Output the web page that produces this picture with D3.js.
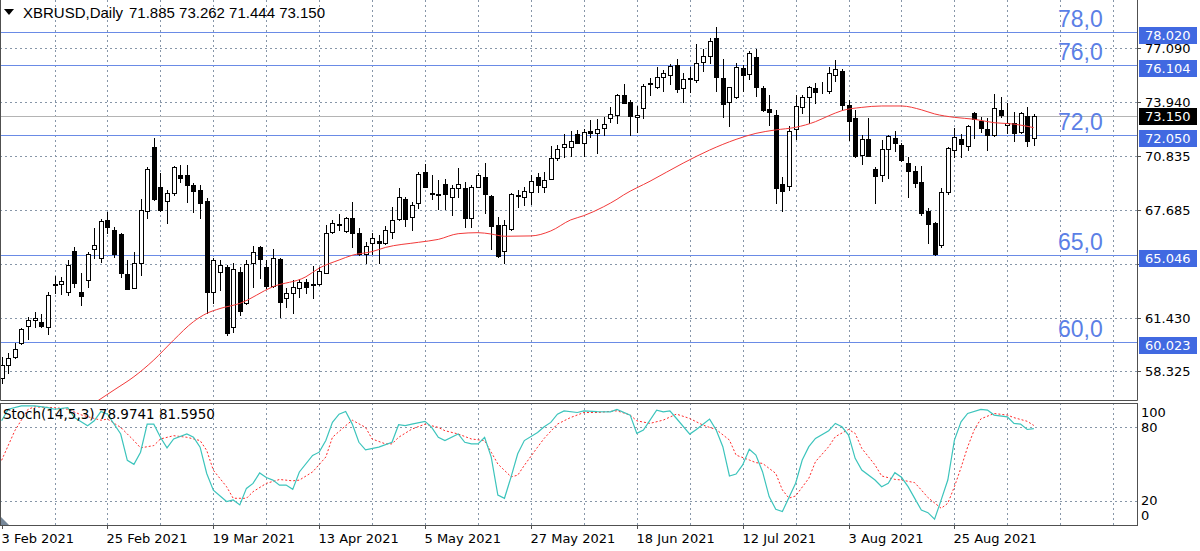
<!DOCTYPE html>
<html>
<head>
<meta charset="utf-8">
<script src="https://cdn.jsdelivr.net/npm/d3@7"></script>
<style>
body { margin: 0; background: #fff; }
svg { display: block; font-family: "DejaVu Sans", sans-serif; }
</style>
</head>
<body>
<svg></svg>
<script>
// XBRUSD daily, bar 0 = 3 Feb 2021
const opens = [57.90,58.67,59.16,59.93,60.94,61.29,61.15,60.90,63.36,63.38,62.93,65.31,62.93,63.61,65.39,64.91,67.10,66.52,66.26,63.94,
63.16,64.62,67.62,71.36,68.99,68.22,68.65,69.69,69.71,69.13,68.84,68.20,62.93,64.08,64.39,60.86,64.08,62.26,64.58,65.55,
64.39,63.28,64.81,62.55,62.87,63.13,63.51,63.38,63.38,64.04,66.42,66.85,66.48,67.23,66.32,65.12,65.78,65.90,65.74,66.42,
67.14,68.30,67.29,68.07,69.87,68.68,68.59,69.17,68.45,68.97,68.97,67.19,69.03,69.61,68.49,66.81,65.29,66.55,68.53,68.45,
68.74,69.57,69.03,69.48,70.68,71.32,71.32,72.09,71.55,72.27,72.13,72.42,73.04,73.20,74.34,73.97,73.06,73.62,75.02,74.84,
75.39,75.52,76.10,74.75,75.33,75.23,76.30,76.63,77.65,75.33,73.97,74.26,75.91,75.58,76.55,74.75,73.53,73.20,69.19,69.07,
72.36,73.64,74.26,74.78,74.67,74.61,75.52,75.77,73.78,73.00,70.87,71.78,70.04,69.71,71.20,71.84,71.45,70.43,69.96,69.28,
67.62,66.94,65.64,68.74,71.16,71.78,71.40,73.33,72.85,72.36,72.04,73.49,72.62,72.75,72.23,73.14,71.885];
const highs = [59.15,59.35,59.93,60.80,61.48,61.77,61.61,62.93,63.84,63.80,64.77,65.55,64.00,65.26,66.61,67.14,67.58,66.71,66.32,64.77,
65.26,68.32,70.20,71.88,69.81,68.84,70.23,70.29,70.29,69.23,69.13,68.36,64.87,64.77,64.48,64.62,64.35,64.77,65.59,65.59,
64.77,65.39,64.87,63.13,63.61,63.65,63.65,64.42,64.39,66.80,67.10,67.45,67.29,68.16,66.61,65.84,66.32,66.22,66.75,67.83,
68.94,68.41,68.16,69.87,70.33,69.71,69.42,69.46,69.13,70.10,69.32,69.13,69.81,70.39,68.55,67.29,67.10,68.68,68.84,69.03,
69.71,69.81,69.90,71.40,71.45,72.07,72.29,72.33,72.36,72.91,72.95,73.10,73.68,74.42,75.00,74.07,73.72,75.00,75.33,76.00,
75.81,76.16,76.43,75.62,76.00,77.32,77.01,77.65,78.29,76.43,74.84,76.24,76.10,76.94,77.01,74.88,74.36,73.49,69.61,72.56,
74.36,74.36,74.88,75.04,75.13,75.97,76.39,75.85,74.07,73.49,72.04,73.00,70.16,71.74,72.04,72.29,71.55,70.78,70.23,70.23,
67.77,67.00,68.94,71.36,72.42,72.09,72.62,73.39,73.06,73.00,74.42,74.22,73.88,73.39,73.39,73.68,73.262];
const lows = [57.60,58.19,59.06,59.89,60.16,60.90,60.90,60.47,62.84,62.78,62.74,63.22,62.16,63.22,64.87,64.68,66.32,64.97,63.80,63.07,
63.13,63.90,67.19,68.26,67.64,66.94,68.55,69.32,68.16,67.58,67.19,61.71,62.25,63.03,60.40,60.61,61.58,62.22,63.22,63.71,
63.13,63.22,61.44,62.06,61.71,62.64,62.84,62.55,63.32,64.00,66.32,66.52,66.42,65.55,65.06,64.58,65.12,64.58,65.70,66.03,
67.10,66.75,66.52,67.77,68.99,68.30,67.72,67.72,67.39,68.45,66.71,66.71,68.99,67.48,65.39,64.93,64.62,66.52,67.83,67.97,
68.03,68.74,68.74,69.46,70.58,70.74,70.81,71.55,70.81,71.90,71.01,72.03,72.81,72.75,73.87,72.04,72.23,73.00,74.36,74.75,
74.61,75.00,74.55,73.97,74.55,75.13,75.77,76.20,74.61,73.06,72.56,74.17,74.61,75.27,74.30,73.45,72.62,68.07,67.64,68.84,
71.78,73.29,72.71,73.91,74.49,74.46,75.19,73.53,71.74,70.74,70.35,70.81,68.10,69.38,69.52,71.13,70.54,68.45,69.03,67.39,
65.74,65.06,65.55,68.61,70.74,70.74,71.16,71.84,72.23,71.16,71.98,73.06,72.13,71.71,72.17,71.40,71.444];
const closes = [58.67,59.06,59.60,60.74,61.29,61.38,60.96,62.74,63.30,63.55,64.48,63.42,62.68,65.12,65.62,67.04,66.67,65.12,64.04,63.09,
64.62,67.68,70.08,68.32,67.68,68.68,70.16,69.56,69.13,68.80,68.10,62.93,64.77,64.46,60.51,64.23,61.83,64.52,65.22,64.81,
63.26,64.87,62.35,62.84,63.22,63.51,63.22,63.34,64.13,66.32,66.90,66.83,67.19,66.36,65.12,65.60,66.03,65.74,66.52,67.10,
68.41,67.14,67.97,69.77,69.03,68.59,68.53,68.61,68.94,69.19,67.19,69.03,69.71,68.61,66.75,65.00,66.81,68.59,68.49,68.80,
69.36,69.13,69.42,70.68,71.22,71.49,71.71,71.59,72.23,72.13,72.36,72.67,73.24,74.33,73.91,73.14,73.20,74.88,75.06,75.42,
75.62,76.04,74.71,75.27,75.27,76.20,76.63,77.52,75.39,73.84,74.80,75.97,75.52,76.82,74.84,73.49,73.39,68.94,68.80,72.29,
73.72,74.26,74.80,74.55,74.63,75.66,75.85,73.78,72.87,70.81,71.78,70.83,69.65,71.20,71.98,71.55,70.58,69.96,69.23,67.48,
66.86,65.12,68.70,71.26,71.94,71.51,72.56,72.95,72.42,72.04,73.58,73.20,72.71,72.17,73.33,71.71,73.150];

const dateBars = [0, 16, 32, 48, 64, 80, 96, 112, 128, 144];
const dateLabels = ["3 Feb 2021", "25 Feb 2021", "19 Mar 2021", "13 Apr 2021", "5 May 2021",
  "27 May 2021", "18 Jun 2021", "12 Jul 2021", "3 Aug 2021", "25 Aug 2021"];

const priceTicks = [77.090, 73.940, 70.835, 67.685, 64.530, 61.430, 58.325];

const levelValues = [78.020, 76.104, 72.050, 65.046, 60.023];
const levelNames = ["78,0", "76,0", "72,0", "65,0", "60,0"];

// moving average, [bar, value]
const maPoints = [[13,56.20],[17,57.22],[20,57.99],[23,58.96],[26,60.12],[29,61.19],[31,61.67],[33,61.95],[36,62.25],[41,63.22],
[46,63.80],[48,64.30],[51,64.77],[53,65.05],[56,65.26],[58,65.50],[63,65.80],[66,65.97],[69,66.30],[72,66.36],
[74,66.28],[76,66.15],[80,66.17],[83,66.46],[86,67.10],[88,67.35],[91,67.87],[93,68.30],[94,68.55],[98,69.35],
[103,70.40],[107,71.16],[111,71.78],[114,72.13],[117,72.33],[120,72.48],[123,72.81],[125,73.15],[127,73.45],[130,73.64],
[133,73.72],[136,73.72],[139,73.50],[141,73.26],[144,73.06],[147,72.95],[150,72.75],[153,72.67],[156,72.46]];

// Stoch(14,5,3) main and signal, [bar, value]
const stochMain = [[0,85.4],[1,94.9],[3,97.6],[5,97.6],[7,96.2],[8,94.9],[10,96.2],[11,88.1],[13,81.4],[14,85.4],[15,93.0],[16,90.8],
[18,74.6],[19,53.0],[20,49.7],[21,59.7],[22,82.7],[23,82.7],[24,71.9],[25,63.2],[26,70.5],[28,74.6],[29,71.9],[30,63.8],
[31,42.2],[32,28.6],[34,19.2],[35,20.5],[36,16.5],[37,30.0],[38,34.1],[39,42.7],[40,38.9],[41,36.8],[42,32.7],[43,32.7],
[44,29.2],[45,43.5],[47,57.0],[48,59.7],[49,69.2],[50,84.1],[51,90.8],[52,93.0],[53,82.7],[54,67.8],[55,61.6],[57,63.8],
[59,67.8],[60,82.2],[61,81.4],[62,82.7],[64,84.9],[65,80.0],[66,71.9],[67,69.2],[69,74.6],[70,67.8],[71,66.5],[72,66.5],
[73,71.9],[74,55.7],[75,24.6],[76,21.9],[77,39.5],[78,58.4],[79,69.2],[81,75.9],[82,80.5],[83,84.1],[84,90.8],[85,93.5],
[87,92.2],[88,93.5],[90,93.0],[92,92.8],[93,94.7],[95,90.1],[96,75.1],[97,77.9],[99,94.2],[100,92.8],[101,93.6],[102,87.3],
[104,74.5],[105,78.3],[107,86.8],[108,77.9],[109,64.2],[110,40.2],[111,41.8],[112,49.2],[113,62.0],[114,57.3],[115,43.7],
[116,23.3],[117,12.9],[118,11.0],[120,34.2],[121,53.3],[122,64.2],[123,71.0],[125,77.3],[126,83.3],[127,80.5],[128,73.7],
[129,54.6],[130,45.1],[132,36.9],[133,31.4],[134,34.2],[135,42.9],[136,39.1],[137,31.4],[138,21.8],[139,12.3],[140,10.1],
[141,4.7],[142,20.6],[143,36.9],[144,69.6],[145,84.6],[146,91.4],[148,94.7],[149,94.2],[150,90.1],[152,88.7],[153,83.3],
[154,82.7],[155,78.3],[156,78.9741]];
const stochSignal = [[0,53],[2,77.3],[4,94.9],[5,96.8],[8,96.2],[10,94.9],[12,90.3],[15,85.9],[16,86.8],[18,80],[20,69.2],
[21,63.2],[23,65.1],[24,70.5],[26,73.2],[28,71.9],[30,69.2],[31,61.1],[32,44.9],[34,31.4],[35,21.9],[37,21.9],[38,27.3],
[40,34.1],[42,37.3],[44,36.2],[45,36.8],[47,43.5],[49,55.7],[50,71.9],[52,81.4],[53,85.9],[55,80],[56,70.5],[58,66.5],
[59,66.5],[60,71.9],[62,78.6],[64,82.7],[66,80],[67,77.3],[69,74.6],[71,70.5],[73,69.2],[74,59.7],[75,50],[77,39.5],
[78,40.8],[79,48.9],[81,63.8],[82,71],[84,82.7],[86,88.1],[88,92.2],[90,92.2],[93,93.6],[95,90.1],[96,85.4],[98,83.3],
[100,86],[102,90.9],[104,87.3],[106,81.9],[107,80],[108,78.3],[110,69.6],[111,57.3],[113,53.3],[114,51.1],[115,50.5],
[117,42.3],[118,28.7],[119,22],[120,23.8],[122,38.3],[123,51.9],[125,64.2],[126,72.4],[128,78.3],[129,75.1],[130,62.8],
[132,49.2],[133,40.2],[135,37.4],[136,36.9],[138,34.7],[139,28.7],[140,22.5],[142,13.7],[143,17.8],[144,31.4],[145,47],
[146,64],[147,78],[148,87],[150,91.4],[152,90.1],[153,88],[154,86.5],[155,85],[156,81.595]];

const stochLevels = [80, 20];
const stochTicks = [100, 80, 20, 0];

// layout
const WIDTH = 1200;
const HEIGHT = 551;
const RIGHT = 1137;
const MAIN_BOTTOM = 400;
const ST_TOP = 403;
const ST_BOTTOM = 525;
const GRID = "#8796a8";
const BORDER = "#505050";

let svg = d3.select('svg').attr('width', WIDTH).attr('height', HEIGHT);

let xScale = d3.scaleLinear().domain([0, 171.7]).range([1.6, 1137.7]);
let yScale = d3.scaleLinear().domain([56.637, 79.879]).range([MAIN_BOTTOM, 0]);
let sScale = d3.scaleLinear().domain([0, 100]).range([ST_BOTTOM, ST_TOP]);

const crisp = v => Math.round(v) + 0.5;

svg.append('clipPath').attr('id', 'mainClip')
  .append('rect').attr('x', 0).attr('y', 0).attr('width', RIGHT).attr('height', MAIN_BOTTOM);
svg.append('clipPath').attr('id', 'stClip')
  .append('rect').attr('x', 0).attr('y', ST_TOP).attr('width', RIGHT).attr('height', ST_BOTTOM - ST_TOP);

// grid
let grid = svg.append('g').attr('stroke', GRID).attr('stroke-dasharray', '2,3').attr('stroke-width', 1);
d3.range(8, 172, 8).forEach(function(b) {
  let gx = crisp(xScale(b));
  grid.append('line').attr('x1', gx).attr('x2', gx).attr('y1', 0).attr('y2', MAIN_BOTTOM);
  grid.append('line').attr('x1', gx).attr('x2', gx).attr('y1', ST_TOP).attr('y2', ST_BOTTOM);
});
priceTicks.forEach(function(p) {
  let gy = crisp(yScale(p));
  grid.append('line').attr('x1', 0).attr('x2', RIGHT).attr('y1', gy).attr('y2', gy);
});
stochLevels.forEach(function(v) {
  let gy = crisp(sScale(v));
  grid.append('line').attr('x1', 0).attr('x2', RIGHT).attr('y1', gy).attr('y2', gy);
});

// horizontal levels
const lastClose = closes[closes.length - 1];
svg.append('line').attr('x1', 0).attr('x2', RIGHT)
  .attr('y1', crisp(yScale(lastClose))).attr('y2', crisp(yScale(lastClose)))
  .attr('stroke', '#b4b4b4');
levelValues.forEach(function(v, i) {
  let ly = crisp(yScale(v));
  svg.append('line').attr('x1', 0).attr('x2', RIGHT).attr('y1', ly).attr('y2', ly)
    .attr('stroke', '#6a8be6').attr('stroke-width', 1);
  svg.append('text').attr('x', 1058).attr('y', ly - 6)
    .style('font-family', '"Liberation Sans", Arial, sans-serif').style('font-size', '23px')
    .attr('fill', '#5b7fe6').text(levelNames[i]);
});

// candles
let candles = svg.append('g').attr('clip-path', 'url(#mainClip)');
opens.forEach(function(o, i) {
  let cx = Math.round(xScale(i));
  let c = closes[i];
  candles.append('line').attr('x1', cx + 0.5).attr('x2', cx + 0.5)
    .attr('y1', Math.round(yScale(highs[i]))).attr('y2', Math.round(yScale(lows[i])) + 1)
    .attr('stroke', '#000');
  let top = Math.round(yScale(Math.max(o, c)));
  let bot = Math.round(yScale(Math.min(o, c)));
  candles.append('rect').attr('x', cx - 1.5).attr('y', top + 0.5)
    .attr('width', 4).attr('height', Math.max(0, bot - top))
    .attr('fill', c >= o ? '#fff' : '#000').attr('stroke', '#000');
});

// moving average
let maLine = d3.line().x(d => xScale(d[0])).y(d => yScale(d[1])).curve(d3.curveMonotoneX);
svg.append('path').datum(maPoints).attr('d', maLine).attr('clip-path', 'url(#mainClip)')
  .attr('fill', 'none').attr('stroke', '#f23a3a').attr('stroke-width', 1);

// stochastic
let stLine = d3.line().x(d => xScale(d[0])).y(d => sScale(d[1]));
svg.append('path').datum(stochSignal).attr('d', stLine).attr('clip-path', 'url(#stClip)')
  .attr('fill', 'none').attr('stroke', '#ff2a2a').attr('stroke-dasharray', '2,2').attr('stroke-width', 1);
svg.append('path').datum(stochMain).attr('d', stLine).attr('clip-path', 'url(#stClip)')
  .attr('fill', 'none').attr('stroke', '#3cc4bc').attr('stroke-width', 1.2);

// borders
let frame = svg.append('g').attr('stroke', BORDER).attr('fill', 'none');
frame.append('path').attr('d', `M0.5,0 V${MAIN_BOTTOM + 0.5} H${RIGHT + 0.5} V0`);
frame.append('rect').attr('x', 0.5).attr('y', ST_TOP + 0.5).attr('width', RIGHT).attr('height', ST_BOTTOM - ST_TOP);
svg.append('path').attr('d', `M1,${ST_BOTTOM - 8} L1,${ST_BOTTOM} L9,${ST_BOTTOM} Z`).attr('fill', '#778899');

// price axis; a tick label sitting under a level box is covered, so it is left out
let axis = svg.append('g').style('font-size', '13px');
priceTicks.forEach(function(p) {
  let ty = crisp(yScale(p));
  axis.append('line').attr('x1', RIGHT).attr('x2', RIGHT + 4).attr('y1', ty).attr('y2', ty).attr('stroke', BORDER);
  let hidden = levelValues.some(v => Math.abs(yScale(v) - yScale(p)) < 10);
  if (!hidden) {
    axis.append('text').attr('x', 1145).attr('y', ty).attr('dy', '0.36em').attr('fill', '#000').text(p.toFixed(3));
  }
});
levelValues.forEach(function(v) {
  let ly = Math.round(yScale(v));
  axis.append('rect').attr('x', 1139).attr('y', ly - 5).attr('width', 58).attr('height', 17).attr('fill', '#4169e1');
  axis.append('text').attr('x', 1145).attr('y', ly + 3.5).attr('dy', '0.36em').attr('fill', '#fff').text(v.toFixed(3));
});
let cy = Math.round(yScale(lastClose));
axis.append('rect').attr('x', 1139).attr('y', cy - 8).attr('width', 58).attr('height', 17).attr('fill', '#000');
axis.append('text').attr('x', 1145).attr('y', cy + 0.5).attr('dy', '0.36em').attr('fill', '#fff').text(lastClose.toFixed(3));

stochTicks.forEach(function(v) {
  let ty = Math.min(Math.max(sScale(v), ST_TOP + 9), ST_BOTTOM - 10);
  axis.append('text').attr('x', 1141).attr('y', ty).attr('dy', '0.36em').attr('fill', '#000').text(v);
});

// time axis
dateBars.forEach(function(b, i) {
  let tx = crisp(xScale(b));
  axis.append('line').attr('x1', tx).attr('x2', tx).attr('y1', ST_BOTTOM).attr('y2', ST_BOTTOM + 4).attr('stroke', BORDER);
  axis.append('text').attr('x', tx - 1).attr('y', 543).attr('fill', '#000').text(dateLabels[i]);
});

// titles
const last = opens.length - 1;
svg.append('path').attr('d', 'M4,9 L14,9 L9,15 Z').attr('fill', '#000');
let head = svg.append('g').style('font-family', '"Liberation Sans", Arial, sans-serif').style('font-size', '15px');
head.append('text').attr('x', 23).attr('y', 18).text('XBRUSD,Daily');
head.append('text').attr('x', 129).attr('y', 18)
  .text([opens[last], highs[last], lows[last], closes[last]].map(v => v.toFixed(3)).join(' '));
let kLast = stochMain[stochMain.length - 1][1];
let dLast = stochSignal[stochSignal.length - 1][1];
svg.append('text').attr('x', 3).attr('y', 419).style('font-size', '13.5px')
  .text('Stoch(14,5,3) ' + kLast.toFixed(4) + ' ' + dLast.toFixed(4));
</script>
</body>
</html>
